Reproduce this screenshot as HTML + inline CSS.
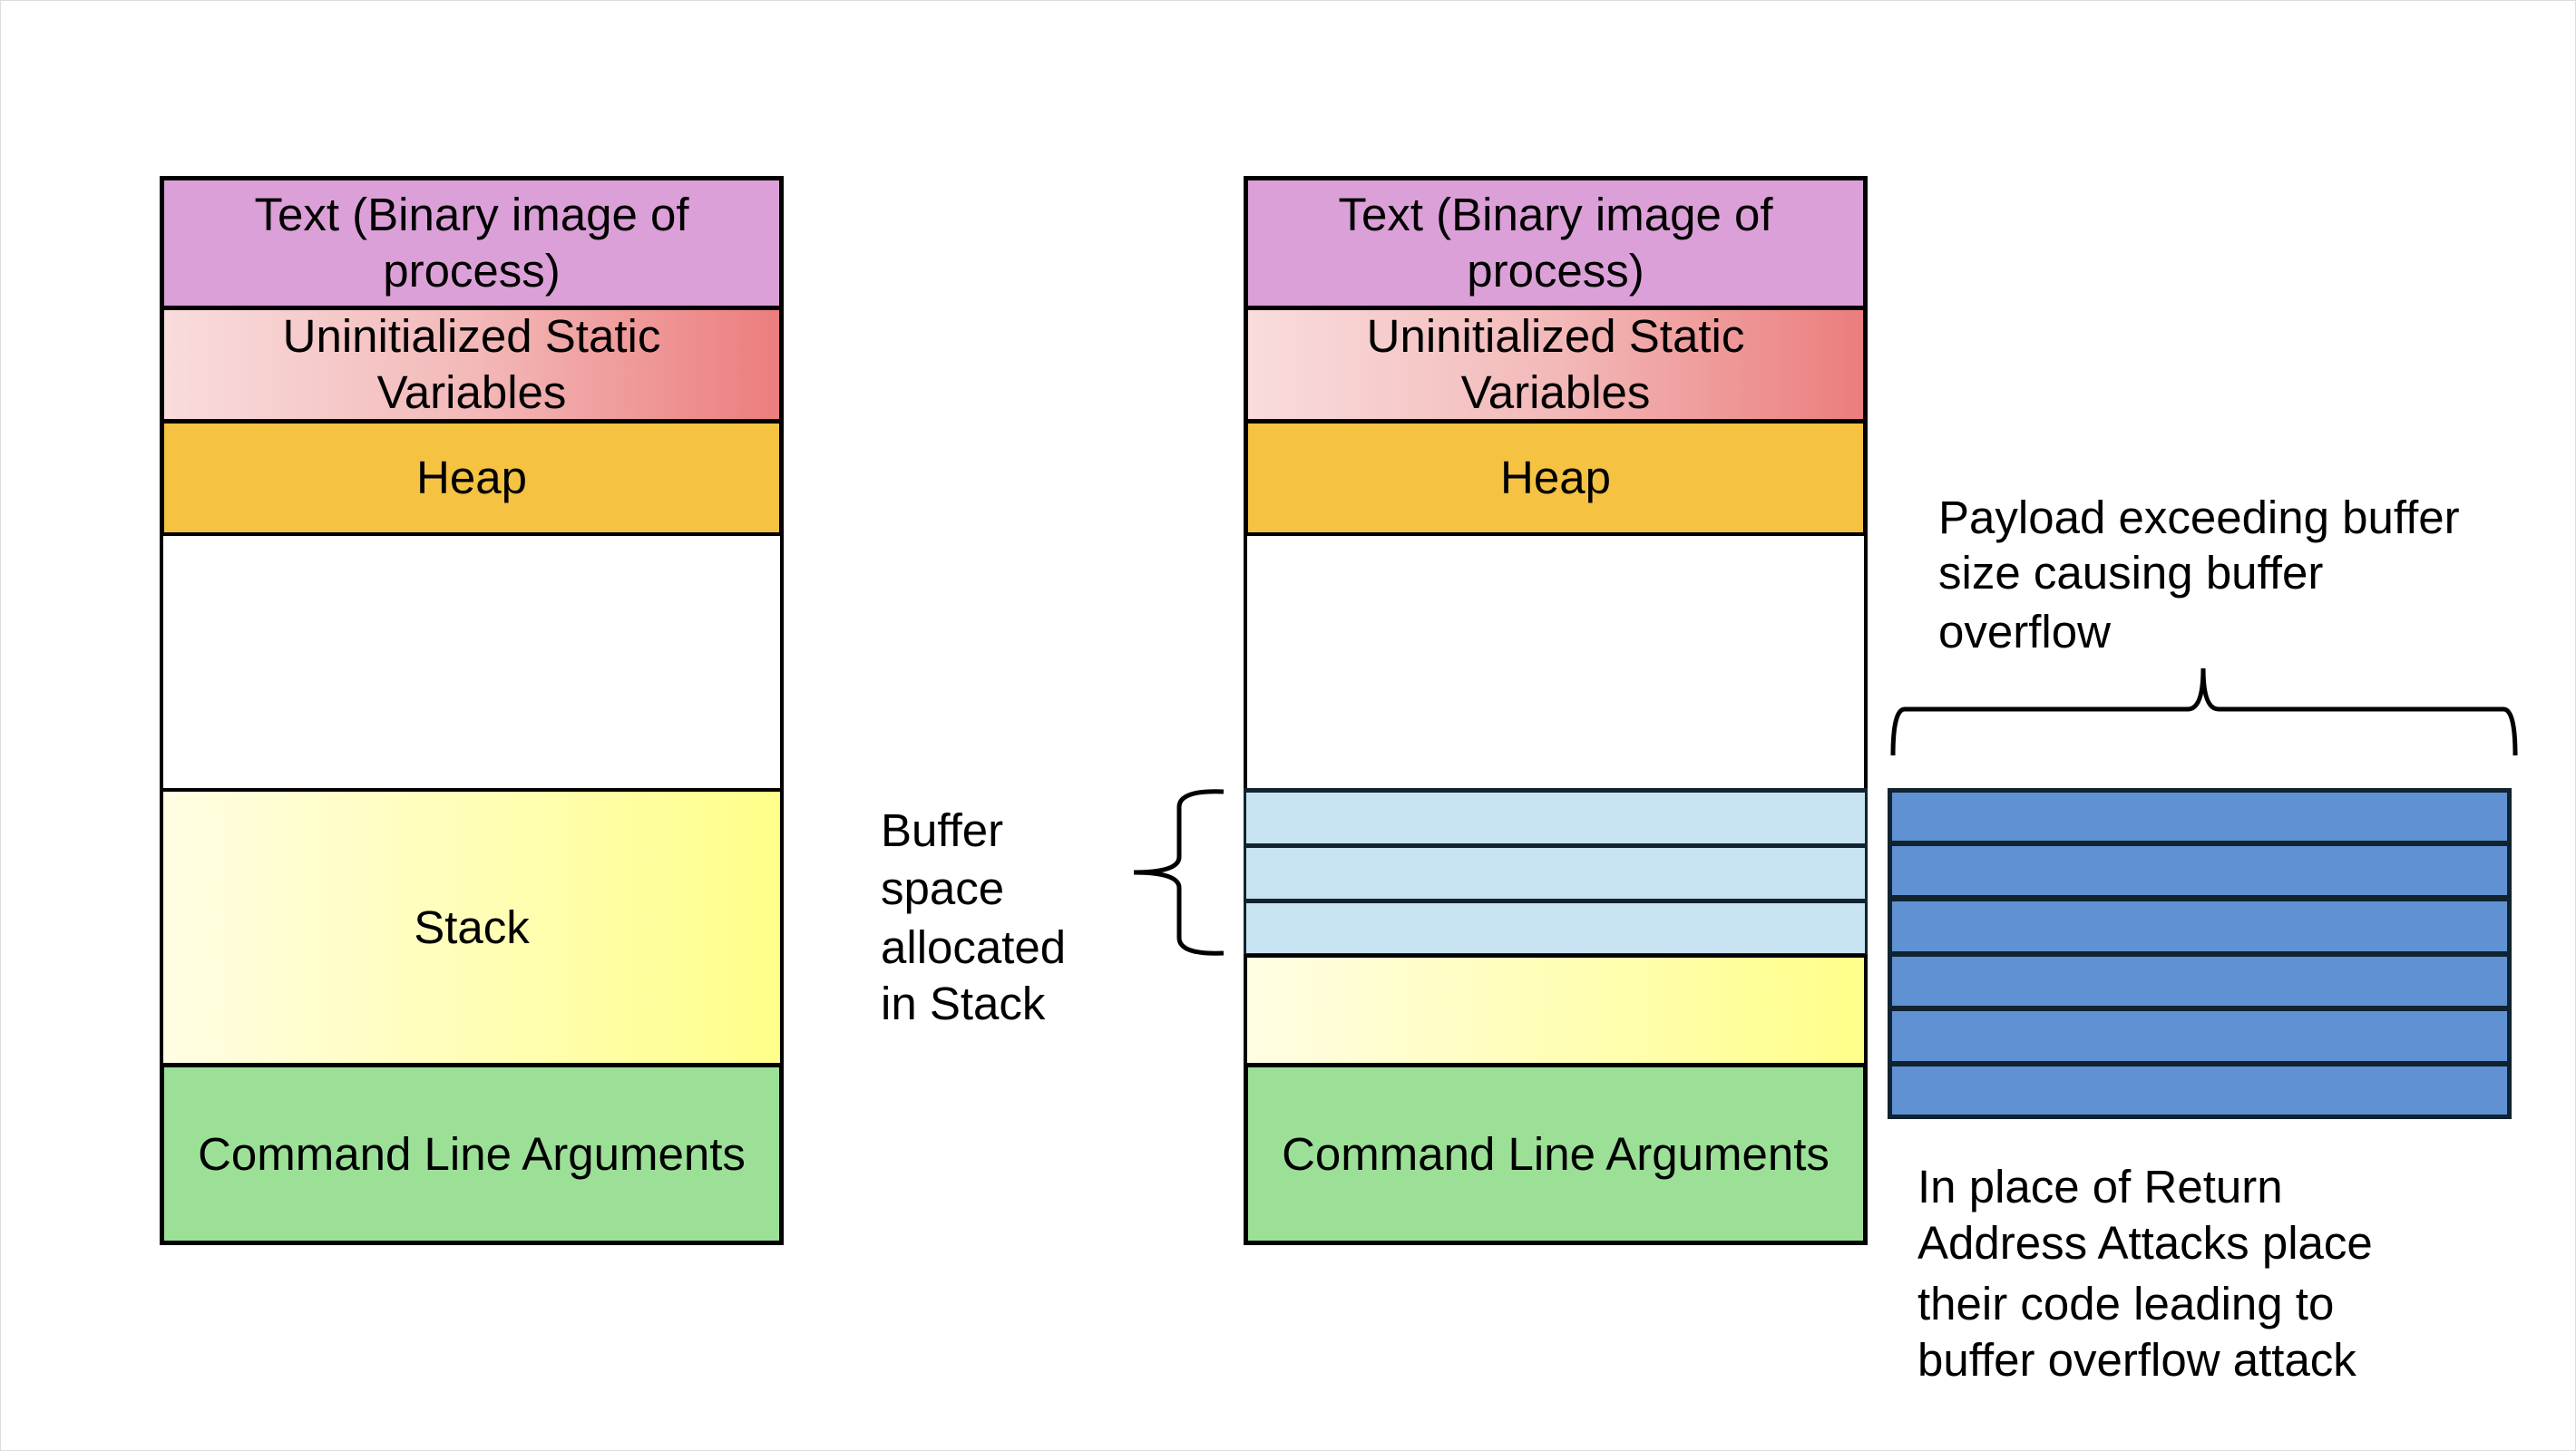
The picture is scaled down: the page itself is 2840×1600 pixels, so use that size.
<!DOCTYPE html>
<html><head><meta charset="utf-8"><style>
body{margin:0;width:2840px;height:1600px;background:#fff;position:relative;overflow:hidden;font-family:"Liberation Sans",sans-serif;color:#000}
.b{position:absolute;box-sizing:border-box;display:flex;align-items:center;justify-content:center;text-align:center;font-size:51px;line-height:62px;white-space:nowrap}
.t{position:absolute;font-size:51px;line-height:63px;white-space:nowrap}
</style></head><body>
<div style="position:absolute;left:0;top:0;width:2838px;height:1598px;border:1px solid #ddd"></div>

<!-- left column -->
<div class="b" style="left:176px;top:194px;width:688px;height:148px;background:#dca0d8;border:5px solid #000">Text (Binary image of<br>process)</div>
<div class="b" style="left:176px;top:337px;width:688px;height:130px;background:linear-gradient(90deg,#f9dcdc,#f3b9b9 50%,#ec7d7d);border:5px solid #000">Uninitialized Static<br>Variables</div>
<div class="b" style="left:176px;top:462px;width:688px;height:130px;background:#f5c242;border:5px solid #000">Heap</div>
<div class="b" style="left:176px;top:587px;width:688px;height:287px;background:#fff;border:4px solid #000"></div>
<div class="b" style="left:176px;top:869px;width:688px;height:308px;background:linear-gradient(90deg,#fffde3,#ffff8a);border:4px solid #000">Stack</div>
<div class="b" style="left:176px;top:1172px;width:688px;height:201px;background:#9be096;border:5px solid #000">Command Line Arguments</div>

<!-- right column -->
<div class="b" style="left:1371px;top:194px;width:688px;height:148px;background:#dca0d8;border:5px solid #000">Text (Binary image of<br>process)</div>
<div class="b" style="left:1371px;top:337px;width:688px;height:130px;background:linear-gradient(90deg,#f9dcdc,#f3b9b9 50%,#ec7d7d);border:5px solid #000">Uninitialized Static<br>Variables</div>
<div class="b" style="left:1371px;top:462px;width:688px;height:130px;background:#f5c242;border:5px solid #000">Heap</div>
<div class="b" style="left:1371px;top:587px;width:688px;height:286px;background:#fff;border:4px solid #000;border-bottom:none"></div>
<div class="b" style="left:1371px;top:869px;width:688px;height:66px;background:#c8e3f1;border:4px solid #10232f;border-width:5px 3px"></div>
<div class="b" style="left:1371px;top:930px;width:688px;height:66px;background:#c8e3f1;border:4px solid #10232f;border-width:5px 3px"></div>
<div class="b" style="left:1371px;top:991px;width:688px;height:65px;background:#c8e3f1;border:4px solid #10232f;border-width:5px 3px"></div>
<div class="b" style="left:1371px;top:1052px;width:688px;height:125px;background:linear-gradient(90deg,#fffde3,#ffff8a);border:4px solid #000"></div>
<div class="b" style="left:1371px;top:1172px;width:688px;height:201px;background:#9be096;border:5px solid #000">Command Line Arguments</div>

<!-- blue payload -->
<div style="position:absolute;left:2081px;top:869px;width:688px;height:365px;background:#6092d3;box-sizing:border-box;border:5px solid #10232f"></div>
<div style="position:absolute;left:2081px;top:927px;width:688px;height:6px;background:#10232f"></div>
<div style="position:absolute;left:2081px;top:987px;width:688px;height:7px;background:#10232f"></div>
<div style="position:absolute;left:2081px;top:1049px;width:688px;height:6px;background:#10232f"></div>
<div style="position:absolute;left:2081px;top:1109px;width:688px;height:6px;background:#10232f"></div>
<div style="position:absolute;left:2081px;top:1170px;width:688px;height:6px;background:#10232f"></div>

<svg style="position:absolute;left:0;top:0" width="2840" height="1600">
<path d="M1349,873 Q1300,871 1300,890 L1300,945 Q1300,962 1250,962 Q1300,962 1300,979 L1300,1034 Q1300,1053 1349,1051" fill="none" stroke="#000" stroke-width="5"/>
<path d="M2087,833 Q2087,782 2100,782 L2412,782 Q2429,782 2429,737 Q2429,782 2446,782 L2760,782 Q2773,782 2773,833" fill="none" stroke="#000" stroke-width="5"/>
</svg>

<div class="t" style="left:971px;top:884px">Buffer</div>
<div class="t" style="left:971px;top:948px">space</div>
<div class="t" style="left:971px;top:1013px">allocated</div>
<div class="t" style="left:971px;top:1075px">in Stack</div>

<div class="t" style="left:2137px;top:539px">Payload exceeding buffer</div>
<div class="t" style="left:2137px;top:600px">size causing buffer</div>
<div class="t" style="left:2137px;top:665px">overflow</div>

<div class="t" style="left:2114px;top:1277px">In place of Return</div>
<div class="t" style="left:2114px;top:1339px">Address Attacks place</div>
<div class="t" style="left:2114px;top:1406px">their code leading to</div>
<div class="t" style="left:2114px;top:1468px">buffer overflow attack</div>
</body></html>
